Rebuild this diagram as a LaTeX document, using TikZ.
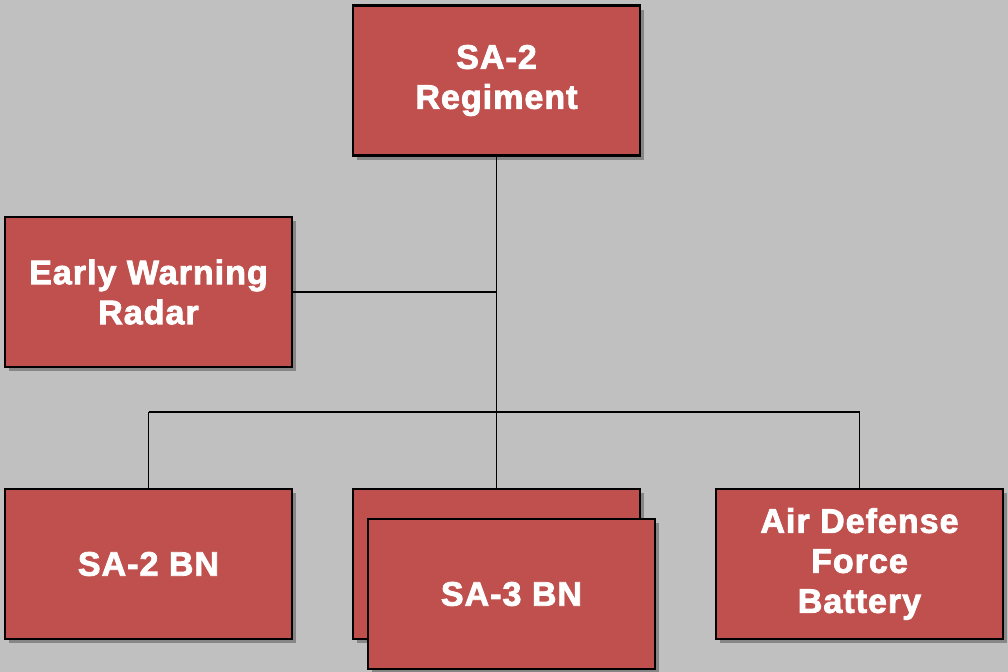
\documentclass[tikz,border=0pt]{standalone}
\usepackage{fontspec}
\setmainfont{Liberation Sans}[FakeBold=2.4, LetterSpace=3]
\usepackage{tikz}
\usetikzlibrary{shadows}
\definecolor{unitred}{HTML}{C0504D}
\definecolor{bgray}{HTML}{C0C0C0}
\begin{document}
\begin{tikzpicture}[x=0.75pt, y=-0.75pt,
		unit/.style={draw=black, line width=1.6pt, fill=unitred, text=white, align=center,
			minimum width=215pt, minimum height=112.5pt, inner sep=0pt,
			font=\fontsize{25.5}{30}\selectfont\bfseries,
			drop shadow={shadow xshift=3pt, shadow yshift=-3pt, fill=black, opacity=0.3}},
		link/.style={draw=black, line width=0.9pt}]
		\useasboundingbox [fill=bgray] (0,0) rectangle (1008,672);

		\node at (496.5, 80.5) [unit] (regt) {SA-2\\Regiment};
		\node at (148.5, 292) [unit] (ewr) {Early Warning\\Radar};

		\coordinate (junc) at (ewr.east -| regt.south);
		\coordinate (bus) at (496.5, 412);
		\coordinate (busL) at (148.5, 412);
		\coordinate (busR) at (859.5, 412);

		\node at (148.5, 564) [unit] (bnTwo) {SA-2 BN};
		\node at (496.5, 564) [unit] (bnBack) {};
		\node at (511.5, 594) [unit] (bnThree) {SA-3 BN};
		\node at (859.5, 564) [unit] (adf) {Air Defense\\Force\\Battery};

		\draw [link] (regt.south) -- (bus);
		\draw [link] (ewr.east) -- (junc);
		\draw [link] (busL) -- (busR);
		\draw [link] (busL) -- (bnTwo.north);
		\draw [link] (bus) -- (bnBack.north);
		\draw [link] (busR) -- (adf.north);
	\end{tikzpicture}
\end{document}
